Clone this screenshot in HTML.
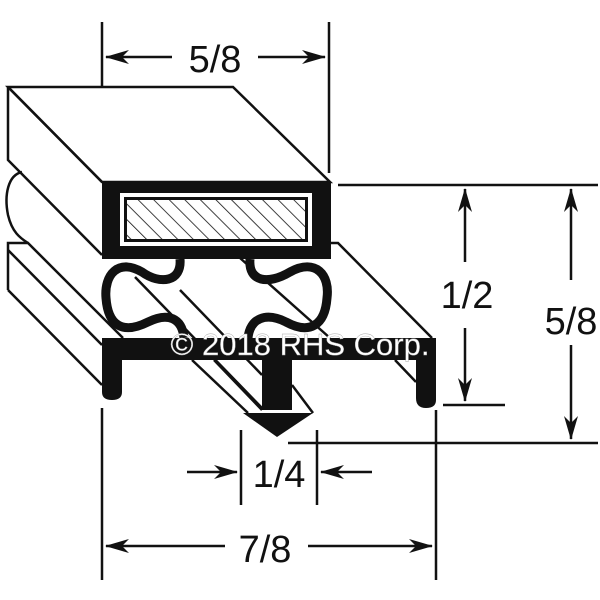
<!DOCTYPE html>
<html><head><style>body{margin:0;background:#fff}svg{display:block}</style></head><body>
<svg width="600" height="600" viewBox="0 0 600 600" xmlns="http://www.w3.org/2000/svg" font-family="Liberation Sans, sans-serif">
<defs>
<pattern id="h" width="11" height="11" patternUnits="userSpaceOnUse" patternTransform="rotate(-45)"><line x1="0" y1="0" x2="0" y2="11" stroke="#111" stroke-width="1.6"/></pattern>
<marker id="a" markerWidth="24" markerHeight="14" refX="23" refY="7" orient="auto" markerUnits="userSpaceOnUse"><path d="M0,0 L24,7 L0,14 L7,7 Z" fill="#111"/></marker>
</defs>
<g stroke="#111" stroke-width="2.5" fill="none">
<line x1="102" y1="22" x2="102" y2="173"/><line x1="329" y1="22" x2="329" y2="173"/>
<line x1="172" y1="57" x2="106" y2="57" marker-end="url(#a)"/><line x1="258" y1="57" x2="325" y2="57" marker-end="url(#a)"/>
<line x1="338" y1="185" x2="598" y2="185"/><line x1="288" y1="443" x2="598" y2="443"/><line x1="443" y1="405" x2="505" y2="405"/>
<line x1="465" y1="262" x2="465" y2="189" marker-end="url(#a)"/><line x1="465" y1="328" x2="465" y2="401" marker-end="url(#a)"/>
<line x1="571" y1="280" x2="571" y2="189" marker-end="url(#a)"/><line x1="571" y1="345" x2="571" y2="439" marker-end="url(#a)"/>
<line x1="102" y1="408" x2="102" y2="580"/><line x1="436" y1="410" x2="436" y2="580"/>
<line x1="241" y1="430" x2="241" y2="505"/><line x1="317" y1="430" x2="317" y2="505"/>
<line x1="187" y1="472" x2="237" y2="472" marker-end="url(#a)"/><line x1="372" y1="472" x2="321" y2="472" marker-end="url(#a)"/>
<line x1="225" y1="546" x2="106" y2="546" marker-end="url(#a)"/><line x1="308" y1="546" x2="432" y2="546" marker-end="url(#a)"/>
<polygon points="8,87 233,87 330,182 102,182" fill="#fff"/>
<polyline points="8,87 8,160 102,255"/>
<line x1="8" y1="87" x2="102" y2="182"/>
<path d="M22,172 C8,175 4,195 8,215 C12,232 20,238 28,243"/>
<polyline points="8,290 8,243 28,243 123,338"/>
<line x1="8" y1="250" x2="102" y2="345"/>
<line x1="8" y1="290" x2="102" y2="385"/>
<polyline points="331,243 338,243 432,338"/>
<line x1="395" y1="360" x2="416" y2="382"/>
<line x1="135" y1="277" x2="262" y2="408"/>
<line x1="180" y1="290" x2="262" y2="375"/>
<line x1="192" y1="360" x2="248" y2="413"/>
<line x1="214" y1="360" x2="262" y2="410"/>
<line x1="292" y1="385" x2="313" y2="413"/>
<line x1="240" y1="258" x2="330" y2="338"/>
</g>
<rect x="102" y="182" width="229" height="77" fill="#111"/>
<rect x="120" y="193" width="192" height="53" fill="#fff"/>
<rect x="124" y="197" width="184" height="45" fill="#111"/>
<rect x="127" y="200" width="178" height="39" fill="#fff"/>
<rect x="127" y="200" width="178" height="39" fill="url(#h)"/>
<path d="M180,259 C182,282 160,285 142,272 C118,258 104,275 106,298 C108,325 122,335 148,322 C168,312 182,318 184,338 M250,259 C248,282 268,285 290,272 C316,258 330,275 327,298 C325,325 310,335 286,322 C266,312 250,318 248,338" stroke="#111" stroke-width="9" fill="none"/>
<path d="M102,338 L436,338 L436,400 Q436,408 426,408 Q416,408 416,398 L416,360 L292,360 L292,410 L262,410 L262,360 L122,360 L122,392 Q122,400 112,400 Q102,400 102,392 Z" fill="#111"/>
<polygon points="243,413 313,413 277,437" fill="#111"/>
<g fill="#111" font-size="38" text-anchor="middle">
<text x="215" y="72">5/8</text>
<text x="467" y="308">1/2</text>
<text x="571" y="334">5/8</text>
<text x="279" y="487">1/4</text>
<text x="265" y="562">7/8</text>
</g>
<text x="300" y="355" fill="#fff" stroke="#aaa" stroke-width="0.4" font-size="31" text-anchor="middle">© 2018 RHS Corp.</text>
</svg>
</body></html>
